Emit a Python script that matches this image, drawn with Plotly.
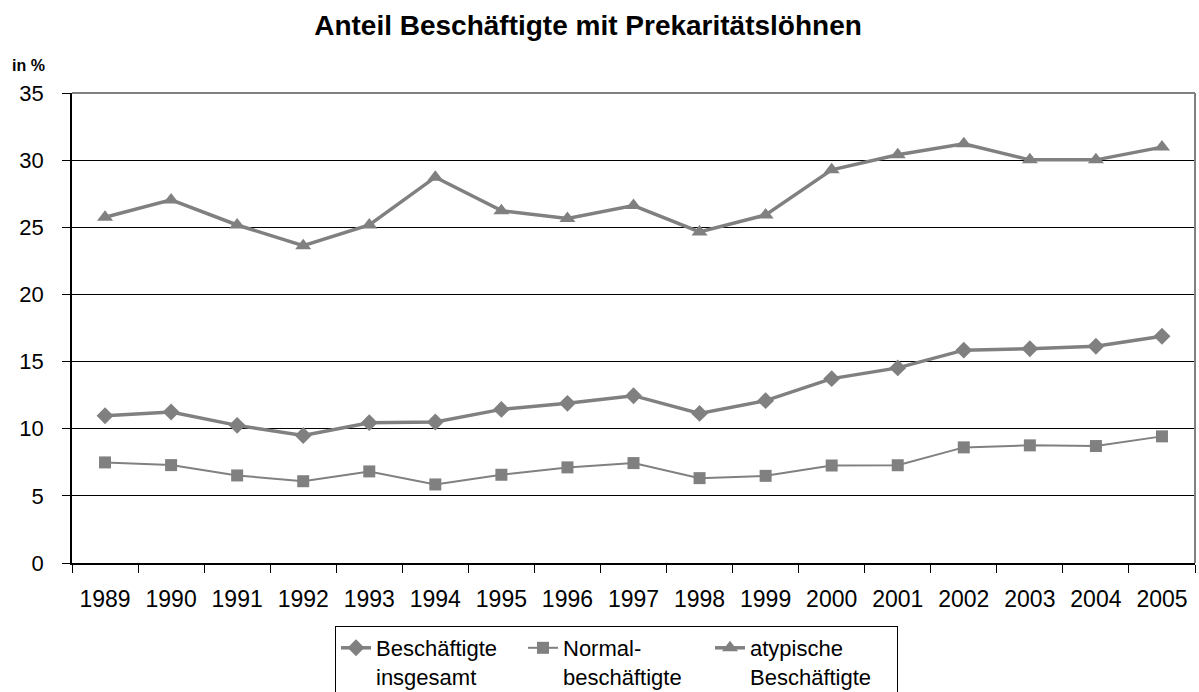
import plotly.graph_objects as go

years = [str(y) for y in range(1989, 2006)]
insgesamt = [10.97, 11.24, 10.25, 9.50, 10.45, 10.50, 11.44, 11.89, 12.46, 11.14, 12.09, 13.73, 14.53, 15.85, 15.95, 16.14, 16.89]
normal = [7.49, 7.29, 6.52, 6.09, 6.82, 5.85, 6.57, 7.12, 7.44, 6.32, 6.49, 7.26, 7.28, 8.61, 8.76, 8.71, 9.43]
atypisch = [25.75, 27.04, 25.17, 23.63, 25.17, 28.73, 26.24, 25.65, 26.62, 24.65, 25.92, 29.28, 30.40, 31.22, 30.02, 30.02, 30.97]
y_ticks = [0, 5, 10, 15, 20, 25, 30, 35]

GRAY = "#808080"
FONT = "Liberation Sans, Arial, sans-serif"

W, H = 1199, 692
ML, MR, MT, MB = 72, 4, 93, 129
PW = W - ML - MR
PH = H - MT - MB

fig = go.Figure()
fig.add_trace(go.Scatter(x=years, y=insgesamt, mode="lines+markers",
                         name="Beschäftigte<br>insgesamt",
                         line=dict(color=GRAY, width=3.5),
                         marker=dict(symbol="diamond", size=13, color=GRAY)))
fig.add_trace(go.Scatter(x=years, y=normal, mode="lines+markers",
                         name="Normal-<br>beschäftigte",
                         line=dict(color=GRAY, width=2),
                         marker=dict(symbol="square", size=12, color=GRAY)))
fig.add_trace(go.Scatter(x=years, y=atypisch, mode="lines+markers",
                         name="atypische<br>Beschäftigte",
                         line=dict(color=GRAY, width=3.5),
                         marker=dict(symbol="triangle-up", size=14, color=GRAY)))

fig.update_layout(
    width=W, height=H,
    margin=dict(l=ML, r=MR, t=MT, b=MB, autoexpand=False),
    paper_bgcolor="white", plot_bgcolor="white",
    font=dict(family=FONT, size=23, color="black"),
    title=dict(text="<b>Anteil Beschäftigte mit Prekaritätslöhnen</b>",
               x=588 / W, xanchor="center", y=1 - 25 / H, yanchor="middle",
               font=dict(size=28, family=FONT, color="black")),
    xaxis=dict(type="category", range=[-0.5, 16.5], showgrid=False,
               showline=True, linecolor="black", linewidth=1.5,
               ticks="outside", ticklen=8, tickcolor="black", tickson="boundaries",
               ticklabelstandoff=15, tickfont=dict(size=23)),
    yaxis=dict(range=[0, 35], tickvals=y_ticks, showgrid=True, gridcolor="black",
               gridwidth=1, zeroline=False, showline=True, linecolor="black",
               linewidth=1.5, ticks="outside", ticklen=8, tickcolor="black",
               ticklabelstandoff=14, tickfont=dict(size=22)),
    showlegend=True,
    legend=dict(orientation="h", x=(335 - ML) / PW, xanchor="left",
                y=-(626 - (MT + PH)) / PH, yanchor="top",
                bordercolor="black", borderwidth=1, bgcolor="white",
                valign="top", entrywidth=142, entrywidthmode="pixels",
                font=dict(size=22, family=FONT), traceorder="normal"),
    shapes=[
        dict(type="line", xref="x domain", yref="y domain", x0=0, x1=1, y0=1, y1=1,
             line=dict(color=GRAY, width=2), layer="above"),
        dict(type="line", xref="x domain", yref="y domain", x0=1, x1=1, y0=0, y1=1,
             line=dict(color=GRAY, width=2), layer="above"),
    ],
    annotations=[
        dict(text="<b>in %</b>", xref="paper", yref="paper",
             x=(10 - ML) / PW, xanchor="left", y=1 + (MT - 66) / PH, yanchor="middle",
             showarrow=False, font=dict(size=16, family=FONT, color="black")),
    ],
)

fig.write_html(
    "out.html",
    config={"displayModeBar": False},
    post_script="document.body.style.margin='0';document.body.style.padding='0';"
                "document.body.style.overflow='hidden';",
)
